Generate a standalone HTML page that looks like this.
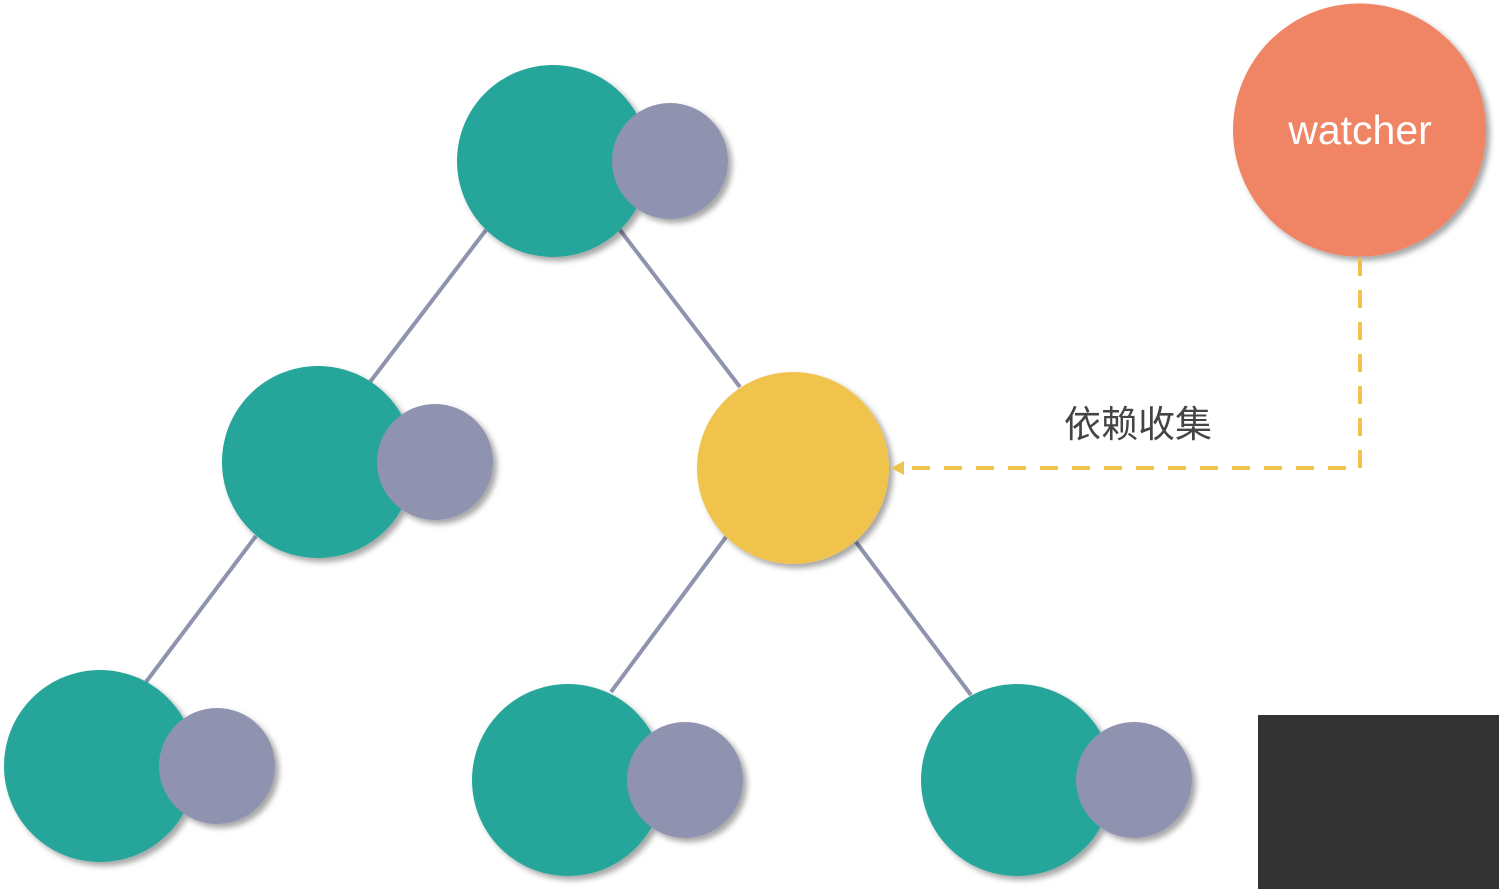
<!DOCTYPE html>
<html><head><meta charset="utf-8">
<style>
html,body{margin:0;padding:0;background:#fff;width:1499px;height:889px;overflow:hidden}
svg{display:block}
</style></head>
<body>
<svg width="1499" height="889" viewBox="0 0 1499 889">
<defs>
<filter id="sh" x="-20%" y="-20%" width="150%" height="150%">
<feDropShadow dx="4" dy="4" stdDeviation="3" flood-color="#000" flood-opacity="0.35"/>
</filter>
</defs>
<g stroke="#8f93ae" stroke-width="4">
<line x1="486" y1="230" x2="370" y2="382"/>
<line x1="620" y1="230" x2="740" y2="387"/>
<line x1="256" y1="536" x2="146" y2="682"/>
<line x1="726" y1="537" x2="611" y2="692"/>
<line x1="856" y1="542" x2="971" y2="695"/>
</g>
<g filter="url(#sh)">
<g><circle cx="553" cy="161" r="96" fill="#26a69a"/><circle cx="670" cy="161" r="58" fill="#8f93b0"/></g>
<g><circle cx="318" cy="462" r="96" fill="#26a69a"/><circle cx="435" cy="462" r="58" fill="#8f93b0"/></g>
<g><circle cx="100" cy="766" r="96" fill="#26a69a"/><circle cx="217" cy="766" r="58" fill="#8f93b0"/></g>
<g><circle cx="568" cy="780" r="96" fill="#26a69a"/><circle cx="685" cy="780" r="58" fill="#8f93b0"/></g>
<g><circle cx="1017" cy="780" r="96" fill="#26a69a"/><circle cx="1134" cy="780" r="58" fill="#8f93b0"/></g>
<circle cx="793" cy="468" r="96" fill="#f0c34e"/>
<circle cx="1359.5" cy="130" r="126.5" fill="#f08565"/>
</g>
<text x="1360" y="144" text-anchor="middle" font-family="Liberation Sans, sans-serif" font-size="41" fill="#fff">watcher</text>
<path d="M1360 258 V468 H905" fill="none" stroke="#f0c34e" stroke-width="4" stroke-dasharray="18 14"/>
<polygon points="891,468 904,461 904,475" fill="#f0c34e"/>
<text x="1138" y="437" text-anchor="middle" font-family="Liberation Sans, 'Noto Sans CJK SC', sans-serif" font-size="37" fill="#444">依赖收集</text>
<rect x="1258" y="715" width="241" height="174" fill="#333"/>
</svg>
</body></html>
